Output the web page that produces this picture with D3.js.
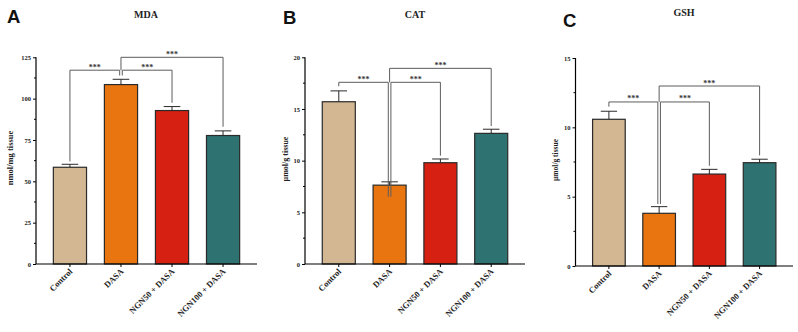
<!DOCTYPE html>
<html>
<head>
<meta charset="utf-8">
<script src="https://cdn.jsdelivr.net/npm/d3@7"></script>
<style>
  html, body { margin: 0; padding: 0; background: #fff; }
  svg { display: block; }
</style>
</head>
<body>
<svg id="chart" width="798" height="332"></svg>
<script>
// ---------- data ----------
const categories = ["Control", "DASA", "NGN50 + DASA", "NGN100 + DASA"];
const barColors = ["#D3B792", "#E8750F", "#D62011", "#2F7272"];

const mdaMeans = [58.5, 108.5, 92.8, 77.7];
const mdaErrors = [1.8, 3.2, 2.4, 2.8];
const mdaTicks = [0, 25, 50, 75, 100, 125];
// [from, to, level, left-leg end, right-leg end]
const mdaBrackets = [[0, 1, 117.2, 62, 114], [1, 2, 117.2, 114, 97.5], [1, 3, 125, 117.2, 83]];

const catMeans = [15.7, 7.63, 9.8, 12.64];
const catErrors = [1.05, 0.32, 0.36, 0.4];
const catTicks = [0, 5, 10, 15, 20];
const catBrackets = [[0, 1, 17.58, 17.2, 6.5], [1, 2, 17.58, 6.5, 10.48], [1, 3, 18.93, 17.58, 13.35]];

const gshMeans = [10.58, 3.8, 6.63, 7.45];
const gshErrors = [0.58, 0.48, 0.34, 0.25];
const gshTicks = [0, 5, 10, 15];
const gshBrackets = [[0, 1, 11.83, 11.49, 4.47], [1, 2, 11.83, 4.47, 7.23], [1, 3, 12.98, 11.83, 7.98]];

const panels = [
  { letter: "A", title: "MDA", ylabel: "nmol/mg tissue", means: mdaMeans, errors: mdaErrors, ticks: mdaTicks, brackets: mdaBrackets,
    x0: 36, x1: 257, yTop: 57.3, yBot: 264, letterX: 7, letterY: 23, titleX: 146, titleY: 18, ylabX: 13, ylabY: 158, ylabSize: 8.5 },
  { letter: "B", title: "CAT", ylabel: "µmol/g tissue", means: catMeans, errors: catErrors, ticks: catTicks, brackets: catBrackets,
    x0: 305, x1: 525, yTop: 57.3, yBot: 264, letterX: 283, letterY: 24, titleX: 415, titleY: 18, ylabX: 288, ylabY: 159, ylabSize: 8 },
  { letter: "C", title: "GSH", ylabel: "µmol/g tissue", means: gshMeans, errors: gshErrors, ticks: gshTicks, brackets: gshBrackets,
    x0: 575.5, x1: 793, yTop: 58, yBot: 266, letterX: 563, letterY: 27, titleX: 684, titleY: 15.5, ylabX: 558, ylabY: 160, ylabSize: 7.5 }
];

const svg = d3.select("#chart");
const serif = "'Liberation Serif', 'Times New Roman', serif";
const sans = "'Liberation Sans', Arial, sans-serif";

panels.forEach(p => {
  const g = svg.append("g");
  const x = d3.scaleBand().domain(categories).range([p.x0, p.x1]).paddingInner(0.35).paddingOuter(0.34);
  const yMax = p.ticks[p.ticks.length - 1];
  const y = d3.scaleLinear().domain([0, yMax]).range([p.yBot, p.yTop]);
  const cx = i => x(categories[i]) + x.bandwidth() / 2;

  // panel letter
  g.append("text").attr("x", p.letterX).attr("y", p.letterY)
    .attr("font-family", sans).attr("font-weight", "bold").attr("font-size", 18.5)
    .attr("fill", "#111").text(p.letter);
  // title
  g.append("text").attr("x", p.titleX).attr("y", p.titleY).attr("text-anchor", "middle")
    .attr("font-family", serif).attr("font-weight", "bold").attr("font-size", 10)
    .attr("fill", "#222").text(p.title);
  // y label
  g.append("text").attr("transform", `translate(${p.ylabX},${p.ylabY}) rotate(-90)`)
    .attr("text-anchor", "middle").attr("font-family", serif).attr("font-weight", "bold")
    .attr("font-size", p.ylabSize).attr("fill", "#222").text(p.ylabel);

  // bars
  g.selectAll("rect.bar").data(p.means).enter().append("rect")
    .attr("x", (d, i) => x(categories[i]))
    .attr("y", d => y(d))
    .attr("width", x.bandwidth())
    .attr("height", d => y(0) - y(d))
    .attr("fill", (d, i) => barColors[i])
    .attr("stroke", "#2a2a2a").attr("stroke-width", 1.2);

  // error bars (upper only)
  const capW = x.bandwidth() * 0.5;
  p.means.forEach((m, i) => {
    const top = y(m + p.errors[i]);
    g.append("line").attr("x1", cx(i)).attr("x2", cx(i)).attr("y1", y(m)).attr("y2", top)
      .attr("stroke", "#2a2a2a").attr("stroke-width", 1);
    g.append("line").attr("x1", cx(i) - capW / 2).attr("x2", cx(i) + capW / 2).attr("y1", top).attr("y2", top)
      .attr("stroke", "#2a2a2a").attr("stroke-width", 1);
  });

  // axes
  const minorTicks = [];
  for (let k = 0; k < p.ticks.length - 1; k++) minorTicks.push((p.ticks[k] + p.ticks[k + 1]) / 2);
  const yAxis = d3.axisLeft(y).tickValues(p.ticks).tickSize(3).tickPadding(2).tickFormat(d3.format("d"));
  const ya = g.append("g").attr("transform", `translate(${p.x0},0)`).call(yAxis);
  ya.append("g").selectAll("line").data(minorTicks).enter().append("line")
    .attr("x1", -2).attr("x2", 0).attr("y1", d => y(d)).attr("y2", d => y(d)).attr("stroke", "#000");
  ya.select(".domain").attr("stroke", "#000").attr("stroke-width", 1.2).attr("d", `M0,${p.yTop}V${p.yBot}`);
  ya.selectAll(".tick line").attr("stroke", "#000");
  ya.selectAll(".tick text").attr("font-family", serif).attr("font-size", 6.5).attr("font-weight", "bold").attr("fill", "#222");

  const xAxis = d3.axisBottom(x).tickSize(3).tickSizeOuter(0);
  const xa = g.append("g").attr("transform", `translate(0,${p.yBot})`).call(xAxis);
  xa.select(".domain").attr("stroke", "#000").attr("stroke-width", 1.2).attr("d", `M${p.x0},0H${p.x1}`);
  xa.selectAll(".tick line").attr("stroke", "#000");
  xa.selectAll(".tick text")
    .attr("font-family", serif).attr("font-size", 8.5).attr("font-weight", "bold").attr("fill", "#222")
    .attr("text-anchor", "end").attr("dy", null).attr("y", null)
    .attr("transform", "translate(3,8) rotate(-45)");

  // significance brackets
  p.brackets.forEach(b => {
    const [a, c, lvl, la, lc] = b;
    const shareLeft = p.brackets.some(o => o !== b && o[2] === lvl && o[1] === a);
    const shareRight = p.brackets.some(o => o !== b && o[2] === lvl && o[0] === c);
    const xa_ = cx(a) + (shareLeft ? 1.3 : 0);
    const xc_ = cx(c) - (shareRight ? 1.3 : 0);
    const yl = y(lvl);
    g.append("path")
      .attr("d", `M${xa_},${y(la)}V${yl}H${xc_}V${y(lc)}`)
      .attr("fill", "none").attr("stroke", "#5c5c5c").attr("stroke-width", 1);
    g.append("text").attr("x", (xa_ + xc_) / 2).attr("y", yl - 0.5).attr("text-anchor", "middle")
      .attr("font-family", serif).attr("font-weight", "bold").attr("font-size", 8).attr("fill", "#333")
      .text("***");
  });
});
</script>
</body>
</html>
